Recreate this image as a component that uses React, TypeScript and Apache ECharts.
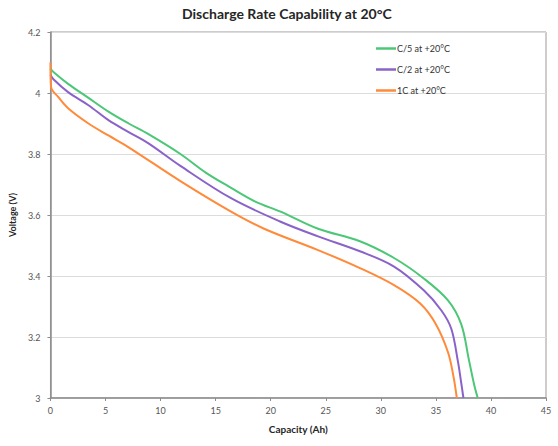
import React, { useEffect, useRef } from "react";
import * as echarts from "echarts";

const seriesNames = ["C/5 at +20°C", "C/2 at +20°C", "1C at +20°C"];

const capC5 = [0, 0.27, 1.6, 3.45, 5.3, 7.1, 8.9, 11.8, 14.1, 16.4, 18.6, 20.9, 24.3, 28.1, 31.2, 33.9, 36.1, 37.3, 38.0, 38.5, 38.8];
const voltC5 = [4.08, 4.069, 4.03, 3.984, 3.938, 3.9, 3.865, 3.8, 3.739, 3.689, 3.644, 3.611, 3.555, 3.514, 3.459, 3.392, 3.32, 3.242, 3.125, 3.04, 3.0];

const capC2 = [0, 0.27, 1.6, 3.45, 5.3, 7.1, 8.9, 11.8, 16.4, 20.9, 24.3, 28.1, 31.2, 33.9, 35.5, 36.4, 37.0, 37.3, 37.5];
const voltC2 = [4.06, 4.045, 4.003, 3.96, 3.91, 3.872, 3.835, 3.761, 3.655, 3.578, 3.53, 3.481, 3.431, 3.353, 3.287, 3.227, 3.12, 3.05, 3.0];

const cap1C = [0, 0.05, 0.7, 1.6, 3.45, 5.3, 7.1, 11.8, 16.4, 19.4, 24.3, 28.1, 31.2, 33.6, 35.0, 36.1, 36.6, 36.9];
const volt1C = [4.1, 4.02, 3.987, 3.95, 3.9, 3.86, 3.822, 3.711, 3.611, 3.555, 3.485, 3.426, 3.37, 3.309, 3.242, 3.15, 3.07, 3.0];

const colors = ["#4cc777", "#8a63c9", "#ff8a3a"];

const pair = (xs: number[], ys: number[]) => xs.map((x, i) => [x, ys[i]]);

const FONT = "Lato, 'Liberation Sans', sans-serif";

export default function App() {
  const ref = useRef<HTMLDivElement>(null);
  useEffect(() => {
    if (!ref.current) return;
    const chart = echarts.init(ref.current, undefined, { renderer: "svg" });
    const datasets = [pair(capC5, voltC5), pair(capC2, voltC2), pair(cap1C, volt1C)];
    chart.setOption({
      animation: false,
      backgroundColor: "#ffffff",
      textStyle: { fontFamily: FONT },
      title: {
        text: "Discharge Rate Capability at 20°C",
        left: 177,
        top: 1,
        textStyle: { fontSize: 14, fontWeight: "bold", color: "#262626", fontFamily: FONT },
      },
      legend: {
        orient: "vertical",
        left: 371,
        top: 39,
        itemWidth: 20,
        itemHeight: 2.5,
        itemGap: 12,
        icon: "rect",
        data: seriesNames,
        textStyle: { fontSize: 9, color: "#333", fontFamily: FONT, padding: [0, 0, 0, -4] },
      },
      grid: {
        left: 50,
        right: 12,
        top: 32,
        bottom: 48,
        show: true,
        borderColor: "#9a9a9a",
        borderWidth: 1,
      },
      xAxis: {
        type: "value",
        min: 0,
        max: 45,
        interval: 5,
        name: "Capacity (Ah)",
        nameLocation: "middle",
        nameGap: 26,
        nameTextStyle: { fontSize: 10, fontWeight: "bold", color: "#262626", fontFamily: FONT },
        axisLine: { show: true, lineStyle: { color: "#8c8c8c", width: 1.5 } },
        axisTick: { show: true, length: 3, lineStyle: { color: "#8c8c8c" } },
        axisLabel: { fontSize: 9, color: "#555", margin: 8, fontFamily: FONT },
        splitLine: { show: false },
      },
      yAxis: {
        type: "value",
        min: 3,
        max: 4.2,
        interval: 0.2,
        name: "Voltage (V)",
        nameLocation: "middle",
        nameGap: 32,
        nameRotate: 90,
        nameTextStyle: { fontSize: 9, fontWeight: "bold", color: "#262626", fontFamily: FONT },
        axisLine: { show: true, lineStyle: { color: "#8c8c8c", width: 1.5 } },
        axisTick: { show: true, length: 3, lineStyle: { color: "#8c8c8c" } },
        axisLabel: { fontSize: 9, color: "#555", margin: 10, fontFamily: FONT },
        splitLine: { show: true, lineStyle: { color: "#dcdcdc", width: 1 } },
      },
      series: seriesNames.map((name, i) => ({
        name,
        type: "line",
        data: datasets[i],
        smooth: 0.35,
        symbol: "none",
        lineStyle: { color: colors[i], width: 2 },
        itemStyle: { color: colors[i] },
      })),
    });
    return () => chart.dispose();
  }, []);
  return <div ref={ref} style={{ width: 558, height: 446, position: "absolute", left: 0, top: 0 }} />;
}
